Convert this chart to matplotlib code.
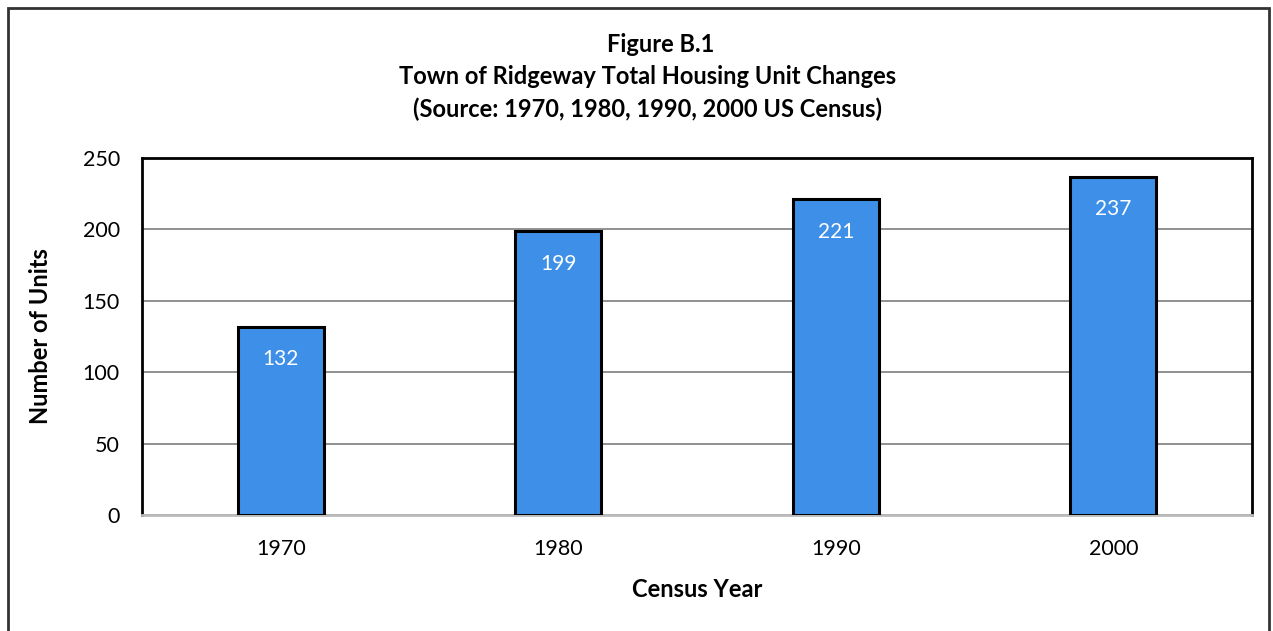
import matplotlib.pyplot as plt
from matplotlib.patches import Rectangle

# ─── Data ────────────────────────────────────────────────────────────────────

years = ["1970", "1980", "1990", "2000"]
units = [132, 199, 221, 237]
y_ticks = [0, 50, 100, 150, 200, 250]

BAR_COLOR = "#3d8fe8"

plt.rcParams.update({
    "font.family": ["Lato", "DejaVu Sans"],
})

fig = plt.figure(figsize=(12.73, 6.31), dpi=100)
ax = fig.add_axes([142 / 1273, 1 - 515 / 631, 1110 / 1273, 357 / 631])

# outer frame around the whole chart
fig.patches.append(Rectangle((8 / 1273, -0.01), 1261 / 1273, 1.01 - 8 / 631,
                             transform=fig.transFigure, fill=False,
                             edgecolor="#333333", linewidth=2))

x = range(len(years))
bars = ax.bar(x, units, width=0.31, color=BAR_COLOR, edgecolor="black",
              linewidth=2.2, zorder=3)

for bar, val in zip(bars, units):
    ax.text(bar.get_x() + bar.get_width() / 2, val - 23, str(val),
            ha="center", va="center", color="white", fontsize=15, zorder=4)

ax.set_xlim(-0.5, len(years) - 0.5)
ax.set_ylim(0, 250)
ax.set_yticks(y_ticks)
ax.set_xticks(list(x))
ax.set_xticklabels(years)
ax.tick_params(axis="both", length=0, labelsize=15.5)
ax.tick_params(axis="x", pad=17)
ax.tick_params(axis="y", pad=16)

ax.yaxis.grid(True, color="#888888", linewidth=1.3, zorder=0)
ax.set_axisbelow(True)

for side in ["left", "top", "right"]:
    ax.spines[side].set_color("black")
    ax.spines[side].set_linewidth(2)
ax.spines["bottom"].set_color("#bbbbbb")
ax.spines["bottom"].set_linewidth(2)

ax.set_xlabel("Census Year", fontsize=17, fontweight="bold", labelpad=14)
ax.set_ylabel("Number of Units", fontsize=17, fontweight="bold", labelpad=22)

title_kw = dict(ha="center", va="center", fontsize=17, fontweight="bold")
fig.text(0.519, 1 - 45 / 631, "Figure B.1", **title_kw)
fig.text(0.509, 1 - 77 / 631, "Town of Ridgeway Total Housing Unit Changes", **title_kw)
fig.text(0.509, 1 - 109 / 631, "(Source: 1970, 1980, 1990, 2000 US Census)", **title_kw)

fig.savefig("out.png", dpi=100)
